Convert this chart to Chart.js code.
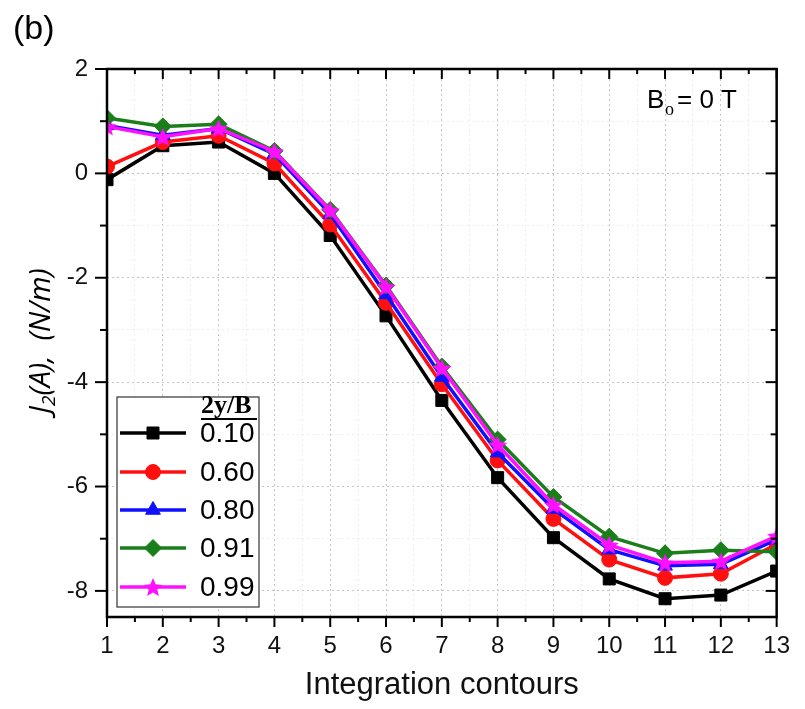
<!DOCTYPE html>
<html>
<head>
<meta charset="utf-8">
<script src="https://cdn.jsdelivr.net/npm/chart.js@4"></script>
<style>
  html, body { margin: 0; padding: 0; background: #fff; }
  #wrap { width: 805px; height: 709px; }
</style>
</head>
<body>
<div id="wrap"><canvas id="c" width="805" height="709"></canvas></div>
<script>
// integration contour index (x axis)
const contours = [1, 2, 3, 4, 5, 6, 7, 8, 9, 10, 11, 12, 13];

// J2(A) in N/m for each 2y/B ratio
const j010 = [-0.12, 0.53, 0.60, 0.00, -1.19, -2.73, -4.35, -5.83, -6.98, -7.77, -8.15, -8.08, -7.62];
const j060 = [0.13, 0.60, 0.72, 0.19, -0.98, -2.48, -4.04, -5.50, -6.62, -7.40, -7.75, -7.67, -7.10];
const j080 = [0.92, 0.73, 0.86, 0.37, -0.78, -2.32, -3.90, -5.35, -6.43, -7.21, -7.52, -7.49, -7.02];
const j091 = [1.06, 0.90, 0.94, 0.43, -0.70, -2.15, -3.70, -5.10, -6.20, -6.96, -7.28, -7.22, -7.25];
const j099 = [0.90, 0.70, 0.86, 0.42, -0.71, -2.17, -3.73, -5.20, -6.35, -7.12, -7.46, -7.43, -6.95];

const ratioLabels = ['0.10', '0.60', '0.80', '0.91', '0.99'];
const seriesColors = ['#000000', '#ff1010', '#1010ff', '#1a7f1a', '#ff10ff'];
// lower number is drawn on top
const drawOrder = [4, 3, 2, 1, 0];

// filled five-point star, Chart.js only has the stroked one
function makeStar(color, r) {
  const cv = document.createElement('canvas');
  const s = Math.ceil(r * 2 + 2);
  cv.width = s; cv.height = s;
  const g = cv.getContext('2d');
  g.fillStyle = color;
  g.beginPath();
  for (let i = 0; i < 10; i++) {
    const rr = i % 2 === 0 ? r : r * 0.45;
    const a = -Math.PI / 2 + i * Math.PI / 5;
    const px = s / 2 + rr * Math.cos(a), py = s / 2 + 1 + rr * Math.sin(a);
    i === 0 ? g.moveTo(px, py) : g.lineTo(px, py);
  }
  g.closePath();
  g.fill();
  return cv;
}

const starImg = makeStar(seriesColors[4], 10);
const markers = [
  { style: 'rect',     radius: 8.5 },
  { style: 'circle',   radius: 7.5 },
  { style: 'triangle', radius: 8.5 },
  { style: 'rectRot',  radius: 8.5 },
  { style: starImg,    radius: 9 },
];
const seriesData = [j010, j060, j080, j091, j099];

const datasets = seriesData.map((d, i) => ({
  label: ratioLabels[i],
  data: d.map((v, k) => ({ x: contours[k], y: v })),
  order: drawOrder[i],
  borderColor: seriesColors[i],
  backgroundColor: seriesColors[i],
  borderWidth: 3.5,
  pointStyle: markers[i].style,
  pointRadius: markers[i].radius,
  pointBorderWidth: 1,
  pointHoverRadius: markers[i].radius,
  tension: 0,
  clip: 0,
}));

function line(ctx, x1, y1, x2, y2) {
  ctx.beginPath(); ctx.moveTo(x1, y1); ctx.lineTo(x2, y2); ctx.stroke();
}

const decorations = {
  id: 'decorations',
  afterDatasetsDraw(chart) {
    const { ctx, chartArea: a, scales: { x, y } } = chart;
    ctx.save();
    ctx.strokeStyle = '#000';
    ctx.lineWidth = 2;

    // tick marks: outward on left/bottom, inward on top/right
    x.ticks.forEach(t => {
      const px = x.getPixelForValue(t.value);
      const len = Number.isInteger(t.value) ? 10 : 5;
      line(ctx, px, a.bottom, px, a.bottom + len);
      line(ctx, px, a.top, px, a.top + len);
    });
    y.ticks.forEach(t => {
      const py = y.getPixelForValue(t.value);
      const major = t.value % 2 === 0;
      line(ctx, a.left - (major ? 12 : 7), py, a.left, py);
      line(ctx, a.right - (major ? 11 : 6), py, a.right, py);
    });

    ctx.lineWidth = 2.5;
    ctx.strokeRect(a.left, a.top, a.right - a.left, a.bottom - a.top);

    // legend box
    const lx = 117, ly = 397, lw = 142, lh = 210;
    ctx.fillStyle = '#fff';
    ctx.fillRect(lx, ly, lw, lh);
    ctx.lineWidth = 1.2;
    ctx.strokeStyle = '#333';
    ctx.strokeRect(lx, ly, lw, lh);

    ctx.fillStyle = '#000';
    ctx.font = 'bold 26px "Liberation Serif", serif';
    ctx.textBaseline = 'alphabetic';
    ctx.textAlign = 'left';
    ctx.fillText('2y/B', 201, 413);
    ctx.lineWidth = 2;
    ctx.strokeStyle = '#000';
    line(ctx, 201, 419, 257, 419);

    const rowY = [433, 472, 510, 548, 587];
    ctx.font = '28px "Liberation Sans", Arial, sans-serif';
    ctx.textBaseline = 'middle';
    ratioLabels.forEach((lab, i) => {
      const yy = rowY[i];
      ctx.strokeStyle = seriesColors[i];
      ctx.lineWidth = 3.5;
      line(ctx, 120, yy, 186, yy);
      ctx.fillStyle = seriesColors[i];
      ctx.strokeStyle = seriesColors[i];
      ctx.lineWidth = 1;
      Chart.helpers.drawPoint(ctx, {
        pointStyle: markers[i].style, radius: markers[i].radius, rotation: 0, borderWidth: 1
      }, 153, yy);
      ctx.fillStyle = '#000';
      ctx.fillText(lab, 200, yy + 1);
    });

    // field annotation B_o = 0 T
    ctx.textBaseline = 'alphabetic';
    ctx.font = '26px "Liberation Sans", Arial, sans-serif';
    ctx.fillText('B', 647, 108);
    ctx.font = '18px "Liberation Serif", serif';
    ctx.fillText('o', 665, 115);
    ctx.font = '26px "Liberation Sans", Arial, sans-serif';
    ctx.fillText('= 0 T', 677, 108);

    // panel label
    ctx.font = '34px "Liberation Sans", Arial, sans-serif';
    ctx.fillText('(b)', 13, 39);

    // y axis title with subscript
    ctx.translate(42, 341);
    ctx.rotate(-Math.PI / 2);
    const big = 'italic 29px "Open Sans", "Noto Sans", sans-serif';
    const small = 'italic 19px "Open Sans", "Noto Sans", sans-serif';
    const rest = '(A),  (N/m)';
    ctx.font = big;
    const wJ = ctx.measureText('J').width;
    const wRest = ctx.measureText(rest).width;
    ctx.font = small;
    const w2 = ctx.measureText('2').width;
    let cx = -(wJ + w2 + wRest) / 2;
    ctx.textBaseline = 'middle';
    ctx.font = big;
    ctx.fillText('J', cx, 0);
    cx += wJ;
    ctx.font = small;
    ctx.fillText('2', cx, 8);
    cx += w2;
    ctx.font = big;
    ctx.fillText(rest, cx, 0);

    ctx.restore();
  }
};

const tickFont = { family: '"Liberation Sans Narrow", "Liberation Sans", Arial, sans-serif', size: 24 };

new Chart(document.getElementById('c'), {
  type: 'line',
  data: { datasets },
  options: {
    responsive: false,
    animation: false,
    events: [],
    layout: { padding: { top: 69, right: 15, left: 0, bottom: 0 } },
    plugins: { legend: { display: false }, tooltip: { enabled: false } },
    scales: {
      x: {
        type: 'linear',
        min: 1, max: 13,
        afterFit: s => { s.height = 92; },
        ticks: {
          stepSize: 0.5,
          autoSkip: false,
          maxRotation: 0,
          padding: 15,
          color: '#111',
          font: tickFont,
          callback: v => Number.isInteger(v) ? String(v) : '',
        },
        grid: {
          drawTicks: false,
          lineWidth: 1,
          color: c => Number.isInteger(c.tick && c.tick.value) ? '#c4c4c4' : '#ececec',
        },
        border: { display: false, dash: [2, 3] },
        title: {
          display: true,
          text: 'Integration contours',
          color: '#111',
          font: { family: '"Liberation Sans", Arial, sans-serif', size: 31 },
          padding: { top: 0, bottom: 5 },
        },
      },
      y: {
        type: 'linear',
        min: -8.5, max: 2,
        afterFit: s => { s.width = 107; },
        ticks: {
          stepSize: 1,
          includeBounds: false,
          padding: 19,
          color: '#111',
          font: tickFont,
          callback: v => (v % 2 === 0 ? String(v) : ''),
        },
        grid: {
          drawTicks: false,
          lineWidth: 1,
          color: c => (c.tick && c.tick.value % 2 === 0) ? '#c4c4c4' : '#ececec',
        },
        border: { display: false, dash: [2, 3] },
      },
    },
  },
  plugins: [decorations],
});
</script>
</body>
</html>
